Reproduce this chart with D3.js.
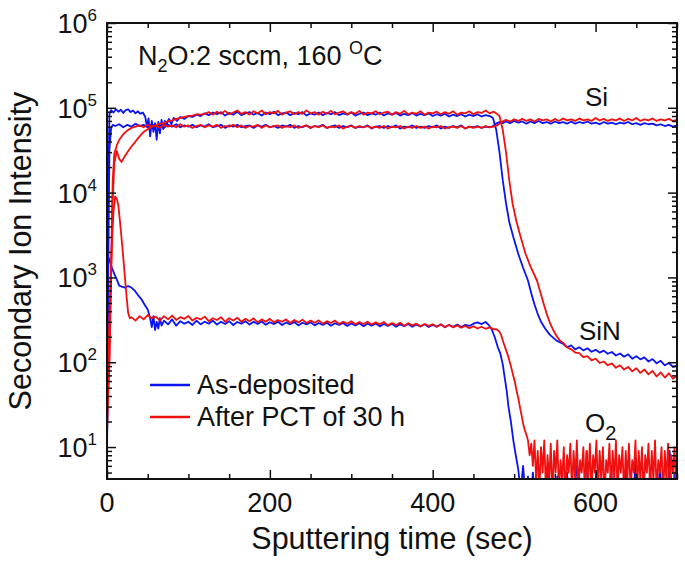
<!DOCTYPE html>
<html><head><meta charset="utf-8">
<script src="https://cdn.jsdelivr.net/npm/d3@7"></script>
<style>body{margin:0;background:#fff} text{font-family:"Liberation Sans",Arial,Helvetica,sans-serif;fill:#111}</style>
</head><body><svg id="c" width="685" height="561"></svg>
<script>
// ---- data (time in sec, intensity in counts) ----
const xMajorTicks = [0,200,400,600];
const yMajorTicks = [1e1,1e2,1e3,1e4,1e5,1e6];
const legendLabels = ["As-deposited","After PCT of 30 h"];

const asDepSi = [[0,7],[1,150],[2,5000],[3,3.2e4],[5,5.7e4],[7,6.3e4],
[10,6.1e4],[15,6.4e4],[20,5.9e4],[25,6.3e4],[30,6.0e4],[35,6.5e4],[40,6.1e4],[45,6.3e4],[50,5.9e4],[55,6.4e4],[60,6.0e4],[65,6.2e4],[70,5.8e4],[75,6.3e4],[80,6.0e4],[85,6.4e4],[90,5.9e4],[95,6.2e4],[100,6.0e4],[105,6.3e4],[110,5.9e4],[115,6.2e4],[120,6.0e4],[125,6.4e4],[130,5.9e4],[135,6.1e4],[140,6.3e4],[145,5.8e4],[150,6.2e4],[155,6.0e4],[160,6.3e4],[165,5.9e4],[170,6.1e4],[175,6.2e4],[180,5.8e4],[185,6.2e4],[190,6.0e4],[195,6.3e4],[200,5.9e4],[205,6.1e4],[210,5.8e4],[215,6.2e4],[220,6.0e4],[225,6.3e4],[230,5.8e4],[235,6.1e4],[240,5.9e4],[245,6.2e4],[250,5.8e4],[255,6.1e4],[260,6.0e4],[265,6.3e4],[270,5.8e4],[275,6.0e4],[280,6.2e4],[285,5.8e4],[290,6.1e4],[295,5.9e4],[300,6.2e4],[305,5.8e4],[310,6.0e4],[315,5.9e4],[320,6.2e4],[325,5.7e4],[330,6.0e4],[335,6.1e4],[340,5.8e4],[345,6.1e4],[350,5.9e4],[355,6.2e4],[360,5.7e4],[365,6.0e4],[370,5.9e4],[375,6.2e4],[380,5.8e4],[385,6.0e4],[390,5.8e4],[395,6.1e4],[400,5.9e4],[405,6.2e4],[410,5.7e4],[415,6.0e4],[420,5.8e4],[425,6.1e4],[430,5.9e4],[435,6.2e4],[440,5.7e4],[445,6.0e4],[450,5.9e4],[455,6.1e4],[460,5.8e4],[465,6.0e4],[470,5.9e4],
[474,6.1e4],[478,6.5e4],[482,6.8e4],[486,6.6e4],
[490,6.9e4],[495,6.6e4],[500,7.0e4],[505,6.7e4],[510,6.9e4],[515,6.5e4],[520,6.9e4],[525,6.6e4],[530,7.0e4],[535,6.6e4],[540,6.8e4],[545,6.5e4],[550,6.9e4],[555,6.6e4],[560,6.8e4],[565,6.5e4],[570,6.9e4],[575,6.5e4],[580,6.8e4],[585,6.6e4],[590,6.9e4],[595,6.5e4],[600,6.7e4],[605,6.4e4],[610,6.8e4],[615,6.5e4],[620,6.7e4],[625,6.4e4],[630,6.7e4],[635,6.5e4],[640,6.8e4],[645,6.4e4],[650,6.6e4],[655,6.3e4],[660,6.6e4],[665,6.4e4],[670,6.5e4],[675,6.2e4],[680,6.4e4],[685,6.1e4],[690,6.3e4],[695,6.0e4],[700,6.2e4]];

const asDepSiN = [[0,8],[1,400],[2,2e4],[3,8.5e4],[5,9.4e4],[8,8.8e4],[11,9.6e4],[14,9e4],[17,9.5e4],[20,8.7e4],[23,9.4e4],[26,9.6e4],[29,8.9e4],[32,9.3e4],[35,8.6e4],[38,9.1e4],[41,8.5e4],[44,8.8e4],[47,7.8e4],[49,6e4],[51,7.5e4],[53,4.6e4],[55,7e4],[57,5.2e4],[59,6.6e4],[61,4.2e4],[63,6.8e4],[65,5e4],[67,7.2e4],[69,5.6e4],[71,7e4],[73,6.2e4],[76,7.4e4],[79,6.4e4],[82,7.6e4],[86,7e4],[90,7.8e4],[95,7.4e4],[100,8e4],[105,7.8e4],[110,8.3e4],[115,8e4],
[120,8.6e4],[125,8.2e4],[130,8.8e4],[135,8.4e4],[140,8.9e4],[145,8.1e4],[150,8.7e4],[155,8.3e4],[160,9e4],[165,8.2e4],[170,8.6e4],[175,8.9e4],[180,8.3e4],[185,8.7e4],[190,8.1e4],[195,8.8e4],[200,8.4e4],[205,9e4],[210,8.2e4],[215,8.6e4],[220,8.8e4],[225,8.2e4],[230,8.7e4],[235,8.4e4],[240,8.9e4],[245,8.1e4],[250,8.6e4],[255,8.3e4],[260,8.8e4],[265,8.2e4],[270,8.7e4],[275,8.4e4],[280,8.9e4],[285,8.2e4],[290,8.6e4],[295,8.3e4],[300,8.8e4],[305,8.1e4],[310,8.5e4],[315,8.8e4],[320,8.2e4],[325,8.6e4],[330,8.3e4],[335,8.8e4],[340,8.1e4],[345,8.6e4],[350,8.3e4],[355,8.7e4],[360,8.1e4],[365,8.5e4],[370,8.2e4],[375,8.7e4],[380,8.1e4],[385,8.5e4],[390,8.2e4],[395,8.6e4],[400,8e4],[405,8.4e4],[410,8.1e4],[415,8.5e4],[420,7.9e4],[425,8.3e4],[430,8e4],[435,8.4e4],[440,7.9e4],[445,8.3e4],[450,8e4],[455,8.4e4],[460,7.9e4],[465,8.2e4],[470,8e4],
[474,7.6e4],[478,5.5e4],[482,3e4],[486,1.4e4],[490,7500],[494,4500],[499,3000],[505,1900],[511,1300],[517,920],[521,650],[525,480],[529,370],[533,300],[538,250],[544,210],[552,180],
[560,165],[565,150],[570,158],[575,142],[580,150],[585,138],[590,146],[595,133],[600,140],[605,130],[610,137],[615,126],[620,132],[625,120],[630,127],[635,116],[640,124],[645,110],[650,118],[655,108],[660,114],[665,102],[670,109],[675,97],[680,104],[685,92],[690,98],[695,88],[700,92]];

const asDepO2 = [[0,7],[1,1800],[3,1600],[6,1300],[9,1100],[12,950],[15,800],[18,780],[22,760],[26,790],[30,760],[34,700],[38,620],[42,560],[46,480],[50,420],[53,330],[55,260],[57,350],[59,240],[61,300],[63,250],[65,330],[67,270],
[70,310],[75,280],[80,320],[85,270],[90,305],[95,285],[100,300],[105,275],[110,310],[115,280],[120,300],[125,285],[130,310],[135,278],[140,300],[145,282],[150,305],[155,275],[160,298],[165,285],[170,305],[175,278],[180,300],[185,282],[190,302],[195,276],[200,296],[205,282],[210,300],[215,275],[220,295],[225,280],[230,298],[235,272],[240,292],[245,280],[250,295],[255,272],[260,290],[265,276],[270,292],[275,270],[280,288],[285,275],[290,290],[295,268],[300,286],[305,272],[310,288],[315,266],[320,284],[325,270],[330,286],[335,265],[340,282],[345,268],[350,284],[355,262],[360,280],[365,266],[370,282],[375,262],[380,278],[385,264],[390,280],[395,260],[400,276],[405,262],[410,280],[415,258],[420,275],[425,262],[430,278],[435,260],[440,276],[445,268],[450,285],[455,295],[460,282],[465,298],[468,280],
[472,250],[476,200],[480,150],[483,127],[486,95],[488,70],[491,45],[493,30],[496,20],[499,12],[502,8],
[505,5.5],[508,3],[511,6],[514,2.5],[517,4.5],[520,2],[523,5],[526,2.5],[529,3.5],[532,2],[535,4],[538,2],[541,6],[544,2],[547,3],[550,2],[553,4.5],[556,2],[559,3],[562,2],[565,5],[568,2],[571,3],[574,2],[577,8],[580,2],[583,4],[586,2],[589,9],[592,2],[595,3.5],[598,2],[601,5],[604,2],[607,3],[610,2],[613,4],[616,2],[619,6],[622,2],[625,3],[628,2],[631,4],[634,2],[637,5],[640,2],[643,3],[646,2],[649,7],[652,2],[655,4],[658,2],[661,3],[664,2],[667,5],[670,2],[673,3.5],[676,2],[679,6],[682,2],[685,4],[688,2],[691,9],[694,2],[697,5],[700,3]];

const pctSi = [[0,20],[3,120],[5,1200],[7,1.4e4],[9,2.9e4],[12,3.6e4],[15,4.2e4],[18,4.6e4],[21,5.0e4],[25,5.4e4],[30,5.8e4],[35,6.0e4],
[40,6.2e4],[45,5.9e4],[50,6.3e4],[55,6.0e4],[60,6.2e4],[65,5.8e4],[70,6.3e4],[75,6.0e4],[80,6.2e4],[85,5.9e4],[90,6.4e4],[95,6.0e4],[100,6.2e4],[105,5.8e4],[110,6.1e4],[115,6.3e4],[120,5.9e4],[125,6.2e4],[130,6.0e4],[135,6.3e4],[140,5.8e4],[145,6.1e4],[150,6.0e4],[155,6.3e4],[160,5.9e4],[165,6.2e4],[170,5.8e4],[175,6.1e4],[180,6.0e4],[185,6.3e4],[190,5.8e4],[195,6.2e4],[200,5.9e4],[205,6.1e4],[210,6.2e4],[215,5.8e4],[220,6.1e4],[225,5.9e4],[230,6.2e4],[235,5.8e4],[240,6.0e4],[245,6.2e4],[250,5.8e4],[255,6.1e4],[260,5.9e4],[265,6.2e4],[270,5.8e4],[275,6.0e4],[280,5.9e4],[285,6.2e4],[290,5.7e4],[295,6.0e4],[300,6.1e4],[305,5.8e4],[310,6.1e4],[315,5.9e4],[320,6.1e4],[325,5.8e4],[330,6.0e4],[335,5.8e4],[340,6.1e4],[345,5.7e4],[350,6.0e4],[355,5.9e4],[360,6.1e4],[365,5.7e4],[370,6.0e4],[375,5.8e4],[380,6.1e4],[385,5.8e4],[390,6.0e4],[395,5.7e4],[400,6.0e4],[405,5.9e4],[410,6.1e4],[415,5.7e4],[420,5.9e4],[425,6.0e4],[430,5.8e4],[435,6.1e4],[440,5.7e4],[445,6.0e4],[450,5.8e4],[455,6.0e4],[460,5.8e4],[465,6.1e4],[470,5.9e4],[475,6.0e4],
[479,6.2e4],[483,6.6e4],[487,7.0e4],
[490,7.2e4],[495,6.9e4],[500,7.3e4],[505,7.0e4],[510,7.4e4],[515,7.0e4],[520,7.3e4],[525,6.9e4],[530,7.4e4],[535,7.1e4],[540,7.3e4],[545,6.9e4],[550,7.4e4],[555,7.0e4],[560,7.5e4],[565,7.1e4],[570,7.3e4],[575,7.0e4],[580,7.5e4],[585,7.1e4],[590,7.3e4],[595,7.0e4],[600,7.6e4],[605,7.1e4],[610,7.4e4],[615,7.0e4],[620,7.3e4],[625,7.1e4],[630,7.5e4],[635,7.0e4],[640,7.4e4],[645,7.1e4],[650,7.6e4],[655,7.0e4],[660,7.3e4],[665,7.1e4],[670,7.5e4],[675,7.0e4],[680,7.3e4],[685,7.1e4],[690,7.4e4],[695,7.0e4],[700,7.2e4]];

const pctSiN = [[0,15],[3,100],[5,1000],[7,8000],[9,2.2e4],[12,3.1e4],[15,2.5e4],[18,2.3e4],[21,2.6e4],[25,3e4],[30,3.5e4],[35,4e4],[40,4.6e4],[45,5.2e4],[50,5.6e4],[55,6e4],[60,6.2e4],[65,6.5e4],[70,6.6e4],[75,7e4],[80,7.1e4],[85,7.4e4],[90,7.6e4],[95,7.8e4],[100,8e4],[105,8.1e4],[110,8.4e4],[115,8.3e4],
[120,8.5e4],[125,8.9e4],[130,8.3e4],[135,9.0e4],[140,8.5e4],[145,9.2e4],[150,8.4e4],[155,8.8e4],[160,9.3e4],[165,8.5e4],[170,8.9e4],[175,8.3e4],[180,9.1e4],[185,8.6e4],[190,9.3e4],[195,8.4e4],[200,8.9e4],[205,8.6e4],[210,9.2e4],[215,8.3e4],[220,8.8e4],[225,9.1e4],[230,8.4e4],[235,8.9e4],[240,8.5e4],[245,9.3e4],[250,8.6e4],[255,8.9e4],[260,8.3e4],[265,9.0e4],[270,8.5e4],[275,9.2e4],[280,8.4e4],[285,8.8e4],[290,9.1e4],[295,8.4e4],[300,8.9e4],[305,8.5e4],[310,9.2e4],[315,8.3e4],[320,8.8e4],[325,8.6e4],[330,9.1e4],[335,8.4e4],[340,8.8e4],[345,9.0e4],[350,8.3e4],[355,8.9e4],[360,8.5e4],[365,9.2e4],[370,8.4e4],[375,8.8e4],[380,8.5e4],[385,9.1e4],[390,8.3e4],[395,8.8e4],[400,8.6e4],[405,9.0e4],[410,8.4e4],[415,8.9e4],[420,8.5e4],[425,9.1e4],[430,8.3e4],[435,8.8e4],[440,8.6e4],[445,9.1e4],[450,8.4e4],[455,8.9e4],[460,8.7e4],[465,9.3e4],[470,8.6e4],[475,9.0e4],[478,8.6e4],
[482,8.0e4],[486,5.5e4],[490,3.0e4],[494,1.4e4],[498,7500],[503,4500],[508,3000],[514,1900],[520,1350],[528,920],[532,680],[536,500],[540,370],[544,290],[548,240],[552,205],[556,180],
[560,170],[565,150],[570,142],[575,130],[580,128],[585,115],[590,118],[595,105],[600,110],[605,98],[610,102],[615,92],[620,97],[625,86],[630,92],[635,82],[640,88],[645,78],[650,85],[655,75],[660,82],[665,72],[670,79],[675,68],[680,76],[685,66],[690,74],[695,64],[700,70]];

const pctO2 = [[0,28],[2,150],[4,700],[6,2500],[8,6000],[10,9000],[12,8500],[14,7000],[16,4500],[18,2800],[20,1700],[22,1000],[24,600],[26,380],[28,330],
[30,340],[35,310],[40,350],[45,320],[50,360],[55,330],[60,345],[65,310],[70,350],[75,320],[80,355],[85,315],[90,340],[95,325],[100,350],[105,310],[110,335],[115,320],[120,345],[125,305],[130,330],[135,315],[140,340],[145,300],[150,330],[155,310],[160,335],[165,300],[170,325],[175,305],[180,330],[185,295],[190,320],[195,300],[200,325],[205,295],[210,315],[215,300],[220,320],[225,290],[230,315],[235,295],[240,318],[245,290],[250,310],[255,292],[260,312],[265,285],[270,305],[275,290],[280,310],[285,282],[290,300],[295,285],[300,305],[305,280],[310,298],[315,282],[320,300],[325,278],[330,295],[335,280],[340,298],[345,272],[350,290],[355,275],[360,292],[365,270],[370,288],[375,272],[380,285],[385,265],[390,282],[395,268],[400,280],[405,262],[410,278],[415,260],[420,275],[425,258],[430,272],[435,255],[440,268],[445,252],[450,266],[455,250],[460,262],[465,248],[470,258],[475,245],
[478,245],[481,235],[484,210],[487,170],[490,140],[493,115],[496,90],[498,75],[501,58],[503,46],[505,38],[507,30],[509,24],[511,19],[513,16],[515,14],[517,12],[519,8],
[521,11],[523,6],[525,12],[527,4],[529,9],[531,3],[533,10],[535,5],[537,12],[539,3],[541,8],[543,4],[545,11],[547,2.5],[549,9],[551,5],[553,12],[555,3],[557,7],[559,4],[561,10],[563,2.5],[565,8],[567,5],[569,11],[571,3],[573,9],[575,4],[577,12],[579,3],[581,7],[583,5],[585,10],[587,2.5],[589,9],[591,4],[593,11],[595,3],[597,8],[599,5],[601,12],[603,3],[605,9],[607,4],[609,10],[611,2.5],[613,7],[615,5],[617,11],[619,3],[621,9],[623,4],[625,12],[627,3],[629,8],[631,5],[633,10],[635,2.5],[637,9],[639,4],[641,11],[643,3],[645,7],[647,5],[649,12],[651,3],[653,9],[655,4],[657,10],[659,2.5],[661,8],[663,5],[665,11],[667,3],[669,9],[671,4],[673,12],[675,3],[677,7],[679,5],[681,10],[683,2.5],[685,9],[687,4],[689,11],[691,3],[693,8],[695,5],[697,10],[699,3]];

// ---- drawing ----
const svg = d3.select("#c");
const L=107, R=677, T=23, B=479;
const x = d3.scaleLinear().domain([0,700]).range([L,R]);
const y = d3.scaleLog().domain([4.2,1e6]).range([B,T]);
const BLUE="#0a14f0", RED="#f01010";

svg.append("defs").append("clipPath").attr("id","clip")
  .append("rect").attr("x",L).attr("y",T).attr("width",R-L).attr("height",B-T);

const line = d3.line().x(d=>x(d[0])).y(d=>y(Math.max(d[1],1)));
const g = svg.append("g").attr("clip-path","url(#clip)");
[[asDepSi,BLUE],[asDepSiN,BLUE],[asDepO2,BLUE],[pctSi,RED],[pctSiN,RED],[pctO2,RED]].forEach(([d,c])=>{
  g.append("path").datum(d).attr("d",line).attr("fill","none").attr("stroke",c)
   .attr("stroke-width",1.8).attr("stroke-linejoin","round");
});

// axes with inward ticks
const xMinor = d3.range(0,701,50).filter(v=>!xMajorTicks.includes(v));
const yMinor = y.ticks().filter(v=>!yMajorTicks.includes(v));
function styleAxis(sel){ sel.select(".domain").remove(); sel.selectAll("line").attr("stroke","#111").attr("stroke-width",1.5); sel.selectAll("text").remove(); }
svg.append("g").attr("transform",`translate(0,${B})`).call(d3.axisBottom(x).tickValues(xMinor).tickSize(-5)).call(styleAxis);
svg.append("g").attr("transform",`translate(0,${B})`).call(d3.axisBottom(x).tickValues(xMajorTicks).tickSize(-9)).call(styleAxis);
svg.append("g").attr("transform",`translate(0,${T})`).call(d3.axisTop(x).tickValues(xMinor).tickSize(-5)).call(styleAxis);
svg.append("g").attr("transform",`translate(0,${T})`).call(d3.axisTop(x).tickValues(xMajorTicks).tickSize(-9)).call(styleAxis);
svg.append("g").attr("transform",`translate(${L},0)`).call(d3.axisLeft(y).tickValues(yMinor).tickSize(-5)).call(styleAxis);
svg.append("g").attr("transform",`translate(${L},0)`).call(d3.axisLeft(y).tickValues(yMajorTicks).tickSize(-9)).call(styleAxis);
svg.append("g").attr("transform",`translate(${R},0)`).call(d3.axisRight(y).tickValues(yMinor).tickSize(-5)).call(styleAxis);
svg.append("g").attr("transform",`translate(${R},0)`).call(d3.axisRight(y).tickValues(yMajorTicks).tickSize(-9)).call(styleAxis);

svg.append("rect").attr("x",L).attr("y",T).attr("width",R-L).attr("height",B-T)
  .attr("fill","none").attr("stroke","#111").attr("stroke-width",2);

// tick labels
svg.append("g").selectAll("text").data(xMajorTicks).join("text")
  .attr("x",d=>x(d)).attr("y",B+33).attr("text-anchor","middle").attr("font-size",27).text(d=>d);
const yl = svg.append("g").selectAll("text").data(yMajorTicks).join("text")
  .attr("x",L-10).attr("y",d=>y(d)+10).attr("text-anchor","end").attr("font-size",27);
yl.append("tspan").text("10");
yl.append("tspan").attr("font-size",17).attr("dy",-12).text(d=>Math.round(Math.log10(d)));

// axis titles
svg.append("text").attr("x",(L+R)/2).attr("y",549).attr("text-anchor","middle").attr("font-size",30.5).text("Sputtering time (sec)");
svg.append("text").attr("transform",`translate(31,${(T+B)/2}) rotate(-90)`).attr("text-anchor","middle").attr("font-size",30.5).text("Secondary Ion Intensity");

// annotations
const ann = svg.append("text").attr("x",138).attr("y",65).attr("font-size",27);
ann.append("tspan").text("N");
ann.append("tspan").attr("font-size",18).attr("dy",7).text("2");
ann.append("tspan").attr("dy",-7).text("O:2 sccm, 160 ");
ann.append("tspan").attr("font-size",18).attr("dy",-11).text("O");
ann.append("tspan").attr("dy",11).text("C");

svg.append("text").attr("x",585).attr("y",106).attr("font-size",26).text("Si");
svg.append("text").attr("x",579).attr("y",340).attr("font-size",26).text("SiN");
const o2 = svg.append("text").attr("x",585).attr("y",432).attr("font-size",26);
o2.append("tspan").text("O");
o2.append("tspan").attr("font-size",20).attr("dy",8).text("2");

// legend
const lg = svg.append("g");
[[BLUE,385],[RED,417]].forEach(([c,yy],i)=>{
  lg.append("line").attr("x1",150).attr("x2",190).attr("y1",yy).attr("y2",yy).attr("stroke",c).attr("stroke-width",2.5);
  lg.append("text").attr("x",197).attr("y",yy+9).attr("font-size",27).text(legendLabels[i]);
});
</script></body></html>
